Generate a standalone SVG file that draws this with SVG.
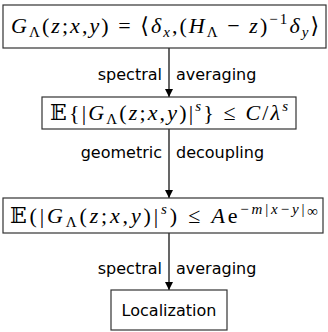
<svg xmlns="http://www.w3.org/2000/svg" width="328" height="332" viewBox="0 0 328 332">
<defs>
<marker id="arr" markerWidth="8" markerHeight="10" refX="8" refY="4" orient="auto" markerUnits="userSpaceOnUse">
<path d="M0,0 L8,4 L0,8 Z" fill="#000"/>
</marker>
<style>
.box{fill:#fff;stroke:#333;stroke-width:1.2}
.m{font-family:"Liberation Serif","DejaVu Serif",serif;font-size:22px;fill:#000}
.i{font-style:italic}
.sub{font-size:15px}
.lbl{font-family:"DejaVu Sans",sans-serif;font-size:16px;fill:#000}
.edge{stroke:#000;stroke-width:1.2;fill:none}
</style>
</defs>
<rect width="328" height="332" fill="#fff"/>
<g id="connectors">
<line class="edge" x1="169" y1="48" x2="169" y2="97" marker-end="url(#arr)"/>
<line class="edge" x1="169" y1="129" x2="169" y2="198" marker-end="url(#arr)"/>
<line class="edge" x1="169" y1="233" x2="169" y2="290" marker-end="url(#arr)"/>
<text class="lbl" x="162" y="80" text-anchor="end">spectral</text>
<text class="lbl" x="176" y="80">averaging</text>
<text class="lbl" x="162" y="158" text-anchor="end">geometric</text>
<text class="lbl" x="176" y="158">decoupling</text>
<text class="lbl" x="162" y="274" text-anchor="end">spectral</text>
<text class="lbl" x="176" y="274">averaging</text>
</g>
<g id="n1">
<rect class="box" x="3" y="5" width="323" height="43"/>
<text class="m" x="11" y="33" textLength="308" lengthAdjust="spacing"><tspan class="i">G</tspan><tspan class="sub" dy="4">Λ</tspan><tspan dy="-4">(</tspan><tspan class="i">z</tspan>;<tspan class="i">x</tspan>,<tspan class="i">y</tspan>) = ⟨<tspan class="i">δ</tspan><tspan class="sub i" dy="4">x</tspan><tspan dy="-4">,(</tspan><tspan class="i">H</tspan><tspan class="sub" dy="4">Λ</tspan><tspan dy="-4"> − </tspan><tspan class="i">z</tspan>)<tspan class="sub" dy="-9">−1</tspan><tspan class="i" dy="9">δ</tspan><tspan class="sub i" dy="4">y</tspan><tspan dy="-4">⟩</tspan></text>
</g>
<g id="n2">
<rect class="box" x="42" y="97" width="254" height="32"/>
<text class="m" x="50" y="120" textLength="238" lengthAdjust="spacing">𝔼{|<tspan class="i">G</tspan><tspan class="sub" dy="4">Λ</tspan><tspan dy="-4">(</tspan><tspan class="i">z</tspan>;<tspan class="i">x</tspan>,<tspan class="i">y</tspan>)|<tspan class="sub i" dy="-9">s</tspan><tspan dy="9">} ≤ </tspan><tspan class="i">C</tspan>/<tspan class="i">λ</tspan><tspan class="sub i" dy="-9">s</tspan></text>
</g>
<g id="n3">
<rect class="box" x="3" y="198" width="320" height="35"/>
<text class="m" x="10" y="223" textLength="308" lengthAdjust="spacing">𝔼(|<tspan class="i">G</tspan><tspan class="sub" dy="4">Λ</tspan><tspan dy="-4">(</tspan><tspan class="i">z</tspan>;<tspan class="i">x</tspan>,<tspan class="i">y</tspan>)|<tspan class="sub i" dy="-9">s</tspan><tspan dy="9">) ≤ </tspan><tspan class="i">A</tspan>e<tspan class="sub" dy="-9">−</tspan><tspan class="sub i">m</tspan><tspan class="sub">|</tspan><tspan class="sub i">x</tspan><tspan class="sub">−</tspan><tspan class="sub i">y</tspan><tspan class="sub">|</tspan><tspan class="sub" dy="2">∞</tspan></text>
</g>
<g id="n4">
<rect class="box" x="111" y="290" width="116" height="40"/>
<text class="lbl" x="169" y="316" text-anchor="middle" font-size="17">Localization</text>
</g>
</svg>
